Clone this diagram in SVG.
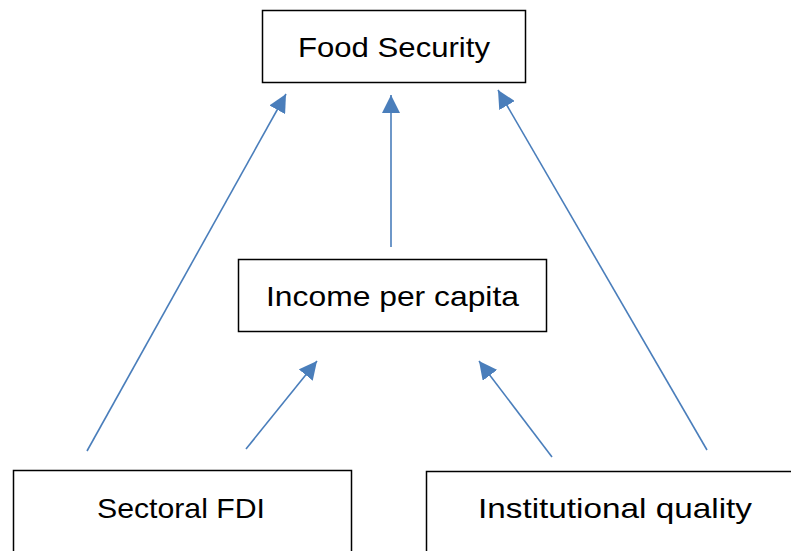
<svg xmlns="http://www.w3.org/2000/svg" width="791" height="551" viewBox="0 0 791 551">
<style>
.box{fill:#fff;stroke:#000;stroke-width:1.5}
.lbl{font-family:"Liberation Sans",Arial,sans-serif;font-size:28px;fill:#000;text-anchor:start}
.con{stroke:#4a7ebb;stroke-width:1.6;fill:none;marker-end:url(#ah)}
</style>
<defs>
<marker id="ah" markerUnits="userSpaceOnUse" markerWidth="20" markerHeight="18" refX="18" refY="9" orient="auto" viewBox="0 0 20 18">
<path d="M0,0 L18,9 L0,18 Z" fill="#4a7ebb"/>
</marker>
</defs>
<rect width="791" height="551" fill="#fff"/>
<g id="food-security">
<rect class="box" x="262.5" y="10.5" width="263" height="72"/>
<text class="lbl" x="298" y="57" textLength="192" lengthAdjust="spacingAndGlyphs">Food Security</text>
</g>
<g id="income-per-capita">
<rect class="box" x="238.5" y="259.5" width="308" height="72"/>
<text class="lbl" x="266" y="306" textLength="253" lengthAdjust="spacingAndGlyphs">Income per capita</text>
</g>
<g id="sectoral-fdi">
<rect class="box" x="13.5" y="470.5" width="338" height="90"/>
<text class="lbl" x="97" y="518" textLength="168" lengthAdjust="spacingAndGlyphs">Sectoral FDI</text>
</g>
<g id="institutional-quality">
<rect class="box" x="426.5" y="471.5" width="380" height="90"/>
<text class="lbl" x="478" y="518" textLength="274" lengthAdjust="spacingAndGlyphs">Institutional quality</text>
</g>
<g id="connectors">
<line class="con" x1="87" y1="451" x2="286" y2="94"/>
<line class="con" x1="391" y1="247" x2="391" y2="95"/>
<line class="con" x1="707" y1="450" x2="498" y2="90"/>
<line class="con" x1="246" y1="449" x2="317" y2="361"/>
<line class="con" x1="552" y1="457" x2="479" y2="361"/>
</g>
</svg>
